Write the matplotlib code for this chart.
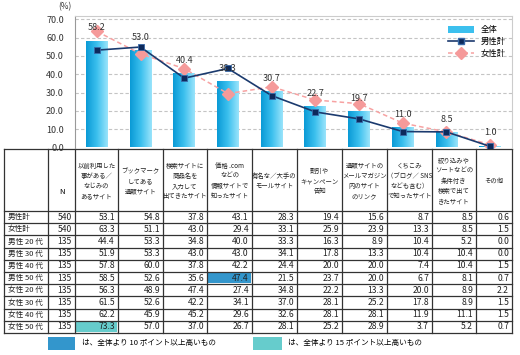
import numpy as np
import matplotlib
matplotlib.use("Agg")
import matplotlib.pyplot as plt
from matplotlib.colors import LinearSegmentedColormap
from matplotlib.lines import Line2D
from matplotlib.patches import Patch, Rectangle

plt.rcParams['font.family'] = ['Noto Sans CJK JP', 'DejaVu Sans']

# ---- data ----
headers = ["以前利用した\n事がある／\nなじみの\nあるサイト",
           "ブックマーク\nしてある\n通販サイト",
           "検索サイトに\n商品名を\n入力して\n出てきたサイト",
           "価格 .com\nなどの\n情報サイトで\n知ったサイト",
           "有名な／大手の\nモールサイト",
           "割引や\nキャンペーン\n告知",
           "通販サイトの\nメールマガジン\n内のサイト\nのリンク",
           "くちこみ\n（ブログ／ SNS\nなども含む）\nで知ったサイト",
           "絞り込みや\nソートなどの\n条件付き\n検索で出て\nきたサイト",
           "その他"]
total = [58.2, 53.0, 40.4, 36.3, 30.7, 22.7, 19.7, 11.0, 8.5, 1.0]
row_labels = ["男性計", "女性計", "男性 20 代", "男性 30 代", "男性 40 代",
              "男性 50 代", "女性 20 代", "女性 30 代", "女性 40 代", "女性 50 代"]
row_n = [540, 540, 135, 135, 135, 135, 135, 135, 135, 135]
table = [
    [53.1, 54.8, 37.8, 43.1, 28.3, 19.4, 15.6, 8.7, 8.5, 0.6],
    [63.3, 51.1, 43.0, 29.4, 33.1, 25.9, 23.9, 13.3, 8.5, 1.5],
    [44.4, 53.3, 34.8, 40.0, 33.3, 16.3, 8.9, 10.4, 5.2, 0.0],
    [51.9, 53.3, 43.0, 43.0, 34.1, 17.8, 13.3, 10.4, 10.4, 0.0],
    [57.8, 60.0, 37.8, 42.2, 24.4, 20.0, 20.0, 7.4, 10.4, 1.5],
    [58.5, 52.6, 35.6, 47.4, 21.5, 23.7, 20.0, 6.7, 8.1, 0.7],
    [56.3, 48.9, 47.4, 27.4, 34.8, 22.2, 13.3, 20.0, 8.9, 2.2],
    [61.5, 52.6, 42.2, 34.1, 37.0, 28.1, 25.2, 17.8, 8.9, 1.5],
    [62.2, 45.9, 45.2, 29.6, 32.6, 28.1, 28.1, 11.9, 11.1, 1.5],
    [73.3, 57.0, 37.0, 26.7, 28.1, 25.2, 28.9, 3.7, 5.2, 0.7],
]
male = table[0]
female = table[1]

W, H = 520, 355
fig = plt.figure(figsize=(W / 100, H / 100), dpi=100)

# table / background axes in pixel coords
axt = fig.add_axes([0, 0, 1, 1])
axt.set_xlim(0, W)
axt.set_ylim(H, 0)
axt.axis('off')

# column and row edges (pixels)
col_edges = [4, 48, 75, 118, 163, 207, 252, 297, 342, 387, 432, 476, 512]
head_top, head_bot = 149, 211
row_h = (333 - head_bot) / len(row_labels)
row_edges = [head_top, head_bot] + [head_bot + row_h * (i + 1) for i in range(len(row_labels))]

c10 = '#3396cc'
c15 = '#66cccc'

# highlighted cells
for r, vals in enumerate(table):
    for c, v in enumerate(vals):
        diff = v - total[c]
        if diff >= 10:
            x0, x1 = col_edges[c + 2], col_edges[c + 3]
            y0, y1 = row_edges[r + 1], row_edges[r + 2]
            axt.add_patch(Rectangle((x0 + 1, y0 + 1), x1 - x0 - 2, y1 - y0 - 2,
                                    color=c15 if diff >= 15 else c10, lw=0))

lc = '#333333'
for x in col_edges:
    axt.plot([x, x], [row_edges[0], row_edges[-1]], color=lc, lw=0.9)
for y in row_edges:
    axt.plot([col_edges[0], col_edges[-1]], [y, y], color=lc, lw=0.9)

# header
hy = (head_top + head_bot) / 2
axt.text((col_edges[1] + col_edges[2]) / 2, 192, "N", ha='center', va='center', fontsize=5.5)
for c, h in enumerate(headers):
    xc = (col_edges[c + 2] + col_edges[c + 3]) / 2
    axt.text(xc, hy + 1, h, ha='center', va='center', fontsize=4.6, linespacing=1.35,
             color='#222222')

# rows
for r, lab in enumerate(row_labels):
    yc = (row_edges[r + 1] + row_edges[r + 2]) / 2
    axt.text(col_edges[0] + 4, yc, lab, ha='left', va='center', fontsize=5.5, color='#222222')
    axt.text(col_edges[2] - 3, yc, str(row_n[r]), ha='right', va='center', fontsize=6.2,
             color='#222222')
    for c, v in enumerate(table[r]):
        axt.text(col_edges[c + 3] - 3, yc, f"{v:.1f}", ha='right', va='center',
                 fontsize=6.2, color='#222222')

# bottom legend
axt.add_patch(Rectangle((48, 337), 27, 13, color=c10, lw=0))
axt.text(82, 343.5, "は、全体より 10 ポイント以上高いもの", ha='left', va='center', fontsize=5.5)
axt.add_patch(Rectangle((253, 337), 29, 13, color=c15, lw=0))
axt.text(288, 343.5, "は、全体より 15 ポイント以上高いもの", ha='left', va='center', fontsize=5.5)

# ---- chart ----
ax = fig.add_axes([75 / W, 1 - 147.5 / H, (512 - 75) / W, (147.5 - 15.5) / H])
ax.patch.set_alpha(0)
x = np.arange(len(total))

bars = ax.bar(x, total, width=0.5, facecolor='none', edgecolor='none', zorder=2)
cmap = LinearSegmentedColormap.from_list('bb', ['#0a9ad6', '#3cc0ee', '#9ae4fb'])
grad = np.linspace(0, 1, 64).reshape(1, -1)
for b in bars:
    im = ax.imshow(grad, extent=[b.get_x(), b.get_x() + b.get_width(), 0, b.get_height()],
                   aspect='auto', cmap=cmap, zorder=2)
    im.set_clip_path(b)

ax.plot(x, male, color='#1b3a6e', lw=1.2, marker='s', markersize=5,
        markerfacecolor='#0d2a5c', markeredgecolor='#3a6aa8', markeredgewidth=0.6, zorder=4)
ax.plot(x, female, color='#f7a2a2', lw=1.1, ls=(0, (3, 2)), marker='D', markersize=6,
        markerfacecolor='#f59a9a', markeredgecolor='#f59a9a', zorder=3)

for xi, v in zip(x, total):
    ax.annotate(f"{v:.1f}", (xi, v), xytext=(0, 6), textcoords='offset points',
                ha='center', va='bottom', fontsize=6.5, color='#333333', zorder=5)

ax.set_xlim(-0.5, len(total) - 0.5)
ax.set_ylim(0, 72)
ax.set_yticks(np.arange(0, 71, 10))
ax.set_yticklabels([f"{t:.1f}" for t in range(0, 71, 10)], fontsize=6.5, color='#333333')
ax.set_xticks([])
ax.tick_params(axis='y', length=0, pad=8)
for t in range(10, 71, 10):
    ax.axhline(t, color='#c4c4c4', lw=0.8, ls=(0, (3, 2)), zorder=1)
ax.spines['left'].set_color('#999999')
ax.spines['top'].set_color('#cccccc')
ax.spines['right'].set_color('#cccccc')
ax.spines['bottom'].set_visible(False)
fig.text(65 / W, 1 - 7 / H, "(%)", fontsize=6, ha='center', va='center', color='#333333')

handles = [Patch(facecolor='#3cc0ee', edgecolor='none'),
           Line2D([], [], color='#1b3a6e', lw=1.2, marker='s', markersize=5,
                  markerfacecolor='#0d2a5c', markeredgecolor='#3a6aa8'),
           Line2D([], [], color='#f7a2a2', lw=1.1, ls=(0, (3, 2)), marker='D', markersize=6,
                  markerfacecolor='#f59a9a', markeredgecolor='#f59a9a')]
ax.legend(handles, ["全体", "男性計", "女性計"], loc='upper right', bbox_to_anchor=(1.0, 0.97),
          frameon=False, fontsize=6, handlelength=3.2, handleheight=0.8, labelspacing=0.35,
          borderaxespad=0.3)

fig.savefig('out.png', dpi=100)
